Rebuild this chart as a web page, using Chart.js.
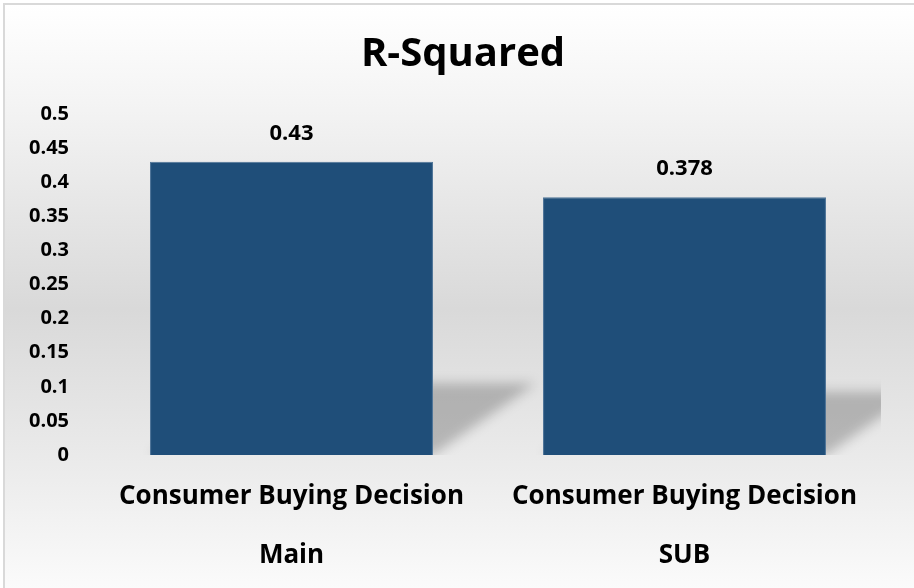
<!DOCTYPE html>
<html lang="en">
<head>
    <meta charset="UTF-8">
    <title>R-Squared</title>
    <script src="https://cdn.jsdelivr.net/npm/chart.js"></script>
    <style>
        html, body { margin: 0; padding: 0; background: #ffffff; }
        #wrap {
            position: absolute;
            left: 3px;
            top: 3px;
            width: 911px;
            height: 585px;
            border-left: 2px solid #d9d9d9;
            border-top: 2px solid #d9d9d9;
            background: linear-gradient(to bottom, #ffffff 0%, #f3f3f3 18%, #d9d9d9 52%, #ececec 80%, #fbfbfb 100%);
        }
        #chart { display: block; }
    </style>
</head>
<body>
    <div id="wrap"><canvas id="chart" width="909" height="583"></canvas></div>

    <script>
        // data
        const categories = [["Consumer Buying Decision", "Main"], ["Consumer Buying Decision", "SUB"]];
        const rSquared = [0.43, 0.378];
        const yTicks = [0, 0.05, 0.1, 0.15, 0.2, 0.25, 0.3, 0.35, 0.4, 0.45, 0.5];

        const FONT = "'Open Sans', 'DejaVu Sans', sans-serif";

        // soft skewed shadow behind each bar (like the office "perspective" shadow)
        const barShadow = {
            id: "barShadow",
            beforeDatasetsDraw(chart) {
                const ctx = chart.ctx;
                const area = chart.chartArea;
                ctx.save();
                ctx.beginPath();
                ctx.rect(area.left, area.top, area.right - area.left, area.bottom - area.top);
                ctx.clip();
                ctx.filter = "blur(6px)";
                ctx.fillStyle = "rgba(0,0,0,0.22)";
                chart.getDatasetMeta(0).data.forEach(bar => {
                    const p = bar.getProps(["x", "y", "base", "width"], true);
                    const left = p.x - p.width / 2, right = p.x + p.width / 2;
                    const h = (p.base - p.y) * 0.245;
                    const dx = h * 1.43;
                    ctx.beginPath();
                    ctx.moveTo(left, p.base);
                    ctx.lineTo(right, p.base);
                    ctx.lineTo(right + dx, p.base - h);
                    ctx.lineTo(left + dx, p.base - h);
                    ctx.closePath();
                    ctx.fill();
                });
                ctx.restore();
            }
        };

        // value labels above the bars
        const valueLabels = {
            id: "valueLabels",
            afterDatasetsDraw(chart) {
                const ctx = chart.ctx;
                ctx.save();
                ctx.font = "bold 22px " + FONT;
                ctx.fillStyle = "#000000";
                ctx.textAlign = "center";
                ctx.textBaseline = "middle";
                chart.getDatasetMeta(0).data.forEach((bar, i) => {
                    ctx.fillText(String(rSquared[i]), bar.x, bar.y - 28);
                });
                ctx.restore();
            }
        };

        // the title sits centred on the whole frame, a little right of the plot
        const titleShift = {
            id: "titleShift",
            afterLayout(chart) {
                if (chart.titleBlock) chart.titleBlock.left += 20;
            }
        };

        new Chart(document.getElementById("chart"), {
            type: "bar",
            data: {
                labels: categories,
                datasets: [{
                    label: "R-Squared",
                    data: rSquared,
                    backgroundColor: "#1f4e79",
                    borderColor: "#4d7397",
                    borderWidth: 1,
                    categoryPercentage: 1,
                    barPercentage: 0.72
                }]
            },
            options: {
                responsive: false,
                animation: false,
                layout: { padding: { left: 20, right: 33, top: 0, bottom: 0 } },
                plugins: {
                    legend: { display: false },
                    tooltip: { enabled: false },
                    title: {
                        display: true,
                        text: "R-Squared",
                        color: "#000000",
                        font: { family: FONT, size: 40, weight: "bold", lineHeight: 1.2 },
                        padding: { top: 26, bottom: 35 }
                    }
                },
                scales: {
                    x: {
                        grid: { display: false, drawTicks: false },
                        border: { display: false },
                        afterFit: axis => { axis.height = 133; },
                        ticks: {
                            color: "#000000",
                            padding: 12,
                            maxRotation: 0,
                            autoSkip: false,
                            font: { family: FONT, size: 26, weight: "bold", lineHeight: 2.27 }
                        }
                    },
                    y: {
                        min: 0,
                        max: 0.5,
                        grid: { display: false, drawTicks: false },
                        border: { display: false },
                        afterBuildTicks: axis => { axis.ticks = yTicks.map(v => ({ value: v })); },
                        afterFit: axis => { axis.width = 70; },
                        ticks: {
                            color: "#000000",
                            padding: 26,
                            callback: v => String(v),
                            font: { family: FONT, size: 20, weight: "bold" }
                        }
                    }
                }
            },
            plugins: [barShadow, valueLabels, titleShift]
        });
    </script>
</body>
</html>
